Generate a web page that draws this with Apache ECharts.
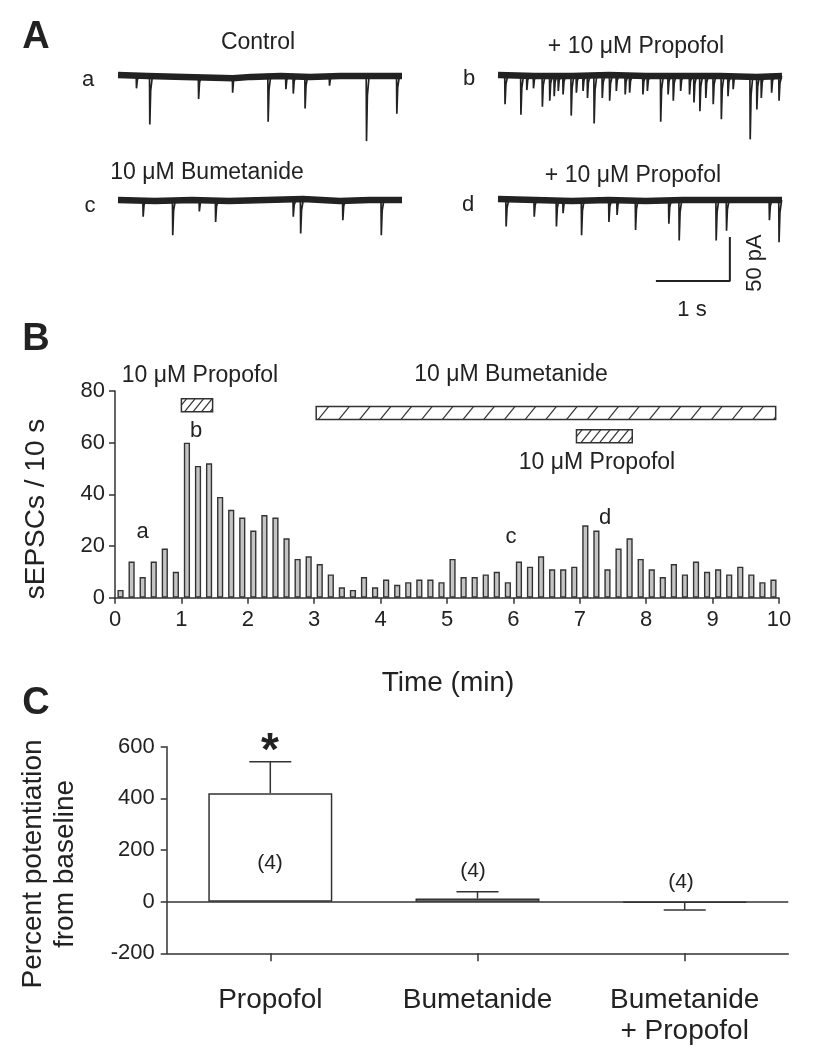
<!DOCTYPE html>
<html><head><meta charset="utf-8">
<script src="https://cdn.jsdelivr.net/npm/echarts@6/dist/echarts.min.js"></script>
<style>html,body{margin:0;padding:0;background:#fff}#c{width:821px;height:1050px}</style>
</head><body><div id="c"></div>
<script>
// ---------- DATA ----------
// Panel A: sEPSC traces, events as [time (s), amplitude (pA, inward)]
const traceEventsA = [[0.25,14],[0.43,55],[1.09,26],[1.55,19],[2.03,52],[2.27,15],[2.37,20],[2.53,37],[2.86,11],[3.36,74],[3.77,43]];
const traceEventsB = [[0.095,32],[0.31,44],[0.39,16],[0.48,14],[0.60,35],[0.70,28],[0.76,23],[0.815,17],[0.88,21],[0.99,45],[1.06,19],[1.15,17],[1.21,25],[1.30,54],[1.41,25],[1.51,28],[1.60,17],[1.72,21],[1.78,19],[1.96,21],[2.02,17],[2.20,52],[2.30,21],[2.37,28],[2.47,17],[2.59,21],[2.65,30],[2.73,40],[2.81,25],[2.91,32],[3.02,49],[3.11,23],[3.18,15],[3.41,72],[3.50,38],[3.56,25],[3.70,19],[3.80,28]];
const traceEventsC = [[0.34,19],[0.74,40],[1.10,13],[1.32,25],[2.37,19],[2.47,38],[3.04,23],[3.56,40]];
const traceEventsD = [[0.11,30],[0.49,19],[0.79,30],[0.88,15],[1.13,40],[1.50,25],[1.61,17],[1.86,34],[2.31,27],[2.45,46],[2.95,46],[3.09,35],[3.67,23],[3.80,48]];
// baseline holding current wander [time (s), pA]
const baselineA = [[0,1],[0.4,0],[0.9,-1],[1.3,-2],[1.55,-2.5],[1.8,-1],[2.2,0],[2.6,-1],[3.0,0],[3.4,0],[3.84,0]];
const baselineB = [[0,1],[0.5,0],[1.0,0],[1.5,1],[2.0,0],[2.5,0],[3.0,0],[3.5,-1],[3.84,0]];
const baselineC = [[0,0],[0.5,-1],[1.0,0],[1.5,-1],[2.0,0],[2.5,1],[3.0,-1],[3.4,0],[3.84,0]];
const baselineD = [[0,1],[0.5,0],[1.0,-1],[1.5,0],[2.0,-1],[2.5,0],[3.0,0],[3.5,0],[3.84,0]];
// scale bar: 1 s by 50 pA
const scaleBar = [[2.135,-92],[3.135,-92],[3.135,-42]];

// Panel B: sEPSCs per 10 s bin (60 bins over 10 min)
const binCounts = [3,14,8,14,19,10,60,51,52,39,34,31,26,32,31,23,15,16,13,9,4,3,8,4,7,5,6,7,7,6,
                   15,8,8,9,10,6,14,12,16,11,11,12,28,26,11,19,23,15,11,8,13,9,14,10,11,9,12,9,6,7];
const binsPerMin = 6;
// drug application bars (min) and their vertical band
const drugStart = [1.0, 3.03, 6.95];
const drugEnd = [1.47, 9.95, 7.79];
const drugLow = [72, 69, 60];
const drugHigh = [77, 74, 65];

// Panel C
const groupNames = ['Propofol','Bumetanide','Bumetanide\n+ Propofol'];
const groupMeans = [420, 12, -4];
const groupSEM = [122, 26, 28];
const groupN = [4, 4, 4];

// ---------- STYLE ----------
const FONT = '"Liberation Sans", Arial, Helvetica, sans-serif';
const INK = '#222';
const AX = '#333';
const hatchSpacing = [8.5, 20.7, 9.3];

function txt(text, x, y, size, opts) {
  opts = opts || {};
  return {
    type: 'text', x: x, y: y, rotation: opts.rot || 0, z: 100,
    style: {
      text: text, fill: INK,
      font: (opts.bold ? 'bold ' : '') + size + 'px ' + FONT,
      align: 'center', verticalAlign: 'middle',
      textAlign: 'center', textVerticalAlign: 'middle',
      lineHeight: opts.lh || undefined
    }
  };
}

function renderSpike(params, api) {
  const t = api.value(0), a = api.value(1);
  const pts = [api.coord([t - 0.004, 0]), api.coord([t, -a]), api.coord([t + 0.012, -a * 0.3]), api.coord([t + 0.035, 0])];
  return { type: 'polyline', shape: { points: pts }, style: { stroke: INK, lineWidth: 1.7, fill: null } };
}

function renderDrug(params, api) {
  const p0 = api.coord([api.value(0), api.value(3)]);
  const p1 = api.coord([api.value(1), api.value(2)]);
  const x = p0[0], y = p0[1], w = p1[0] - p0[0], h = p1[1] - p0[1];
  const sp = hatchSpacing[params.dataIndex];
  const run = h * 0.8;
  const children = [{ type: 'rect', shape: { x: x, y: y, width: w, height: h }, style: { fill: '#fff', stroke: AX, lineWidth: 1.5 } }];
  for (let a = x - run + sp * 0.6; a < x + w; a += sp) {
    let x1 = a, y1 = y + h, x2 = a + run, y2 = y;
    if (x1 < x) { y1 = y + h - (x - x1) / run * h; x1 = x; }
    if (x2 > x + w) { y2 = y + (x2 - (x + w)) / run * h; x2 = x + w; }
    if (x2 <= x1) continue;
    children.push({ type: 'line', shape: { x1: x1, y1: y1, x2: x2, y2: y2 }, style: { stroke: AX, lineWidth: 1.2 } });
  }
  return { type: 'group', children: children };
}

function renderErr(params, api) {
  const i = api.value(0), m = api.value(1), e = api.value(2);
  const sign = m >= 0 ? 1 : -1;
  const p0 = api.coord([i, m]);
  const p1 = api.coord([i, m + sign * e]);
  const cap = 21;
  return { type: 'group', children: [
    { type: 'line', shape: { x1: p0[0], y1: p0[1], x2: p1[0], y2: p1[1] }, style: { stroke: AX, lineWidth: 1.5 } },
    { type: 'line', shape: { x1: p1[0] - cap, y1: p1[1], x2: p1[0] + cap, y2: p1[1] }, style: { stroke: AX, lineWidth: 1.5 } }
  ]};
}

const traceGrids = [
  { left: 118, top: 58.4, width: 284, height: 105.6 },
  { left: 498, top: 58.4, width: 284, height: 105.6 },
  { left: 118, top: 182.4, width: 284, height: 105.6 },
  { left: 498, top: 182.4, width: 284, height: 105.6 }
];
const histGrid = { left: 115, top: 391, width: 664, height: 206.7 };
const barGrid = { left: 166.7, top: 746.7, width: 621.6, height: 206.6 };

const traceEvents = [traceEventsA, traceEventsB, traceEventsC, traceEventsD];
const baselines = [baselineA, baselineB, baselineC, baselineD];

const xAxes = [], yAxes = [], series = [];
for (let i = 0; i < 4; i++) {
  xAxes.push({ gridIndex: i, type: 'value', min: 0, max: 3.84, show: false });
  yAxes.push({ gridIndex: i, type: 'value', min: -100, max: 20, show: false });
  series.push({ type: 'line', xAxisIndex: i, yAxisIndex: i, data: baselines[i], symbol: 'none', silent: true,
    lineStyle: { color: INK, width: 6.5, join: 'round' }, z: 2 });
  series.push({ type: 'custom', xAxisIndex: i, yAxisIndex: i, data: traceEvents[i], renderItem: renderSpike,
    encode: { x: 0, y: 1 }, clip: false, z: 3 });
}
series.push({ type: 'line', xAxisIndex: 3, yAxisIndex: 3, data: scaleBar, symbol: 'none',
  lineStyle: { color: INK, width: 2 }, clip: false, z: 3 });

// Panel B axes
const axisLineStyle = { color: AX, width: 1.5 };
xAxes.push({ gridIndex: 4, type: 'value', min: 0, max: 10, interval: 1,
  axisLine: { show: true, onZero: false, lineStyle: axisLineStyle },
  axisTick: { show: true, inside: false, length: 6, lineStyle: axisLineStyle },
  axisLabel: { fontSize: 22, color: INK, fontFamily: FONT, margin: 11 },
  splitLine: { show: false } });
yAxes.push({ gridIndex: 4, type: 'value', min: 0, max: 80, interval: 20,
  axisLine: { show: true, lineStyle: axisLineStyle },
  axisTick: { show: true, inside: false, length: 6, lineStyle: axisLineStyle },
  axisLabel: { fontSize: 22, color: INK, fontFamily: FONT, margin: 10 },
  splitLine: { show: false } });
series.push({ type: 'bar', xAxisIndex: 4, yAxisIndex: 4,
  data: binCounts.map((v, i) => [(i + 0.5) / binsPerMin, v]), barWidth: 6.2,
  itemStyle: { color: '#c4c4c4', borderColor: AX, borderWidth: 1.4 }, z: 2 });
series.push({ type: 'custom', xAxisIndex: 4, yAxisIndex: 4,
  data: drugStart.map((s, i) => [s, drugEnd[i], drugLow[i], drugHigh[i]]),
  renderItem: renderDrug, encode: { x: [0, 1], y: [2, 3] }, clip: false, z: 3 });

// Panel C axes
xAxes.push({ gridIndex: 5, type: 'category', data: groupNames,
  axisLine: { show: true, onZero: false, lineStyle: axisLineStyle },
  axisTick: { show: true, inside: false, alignWithLabel: true, length: 8, lineStyle: axisLineStyle },
  axisLabel: { fontSize: 28, color: INK, fontFamily: FONT, margin: 31, lineHeight: 31 },
  splitLine: { show: false } });
yAxes.push({ gridIndex: 5, type: 'value', min: -200, max: 600, interval: 200,
  axisLine: { show: true, lineStyle: axisLineStyle },
  axisTick: { show: true, inside: false, length: 6, lineStyle: axisLineStyle },
  axisLabel: { fontSize: 22, color: INK, fontFamily: FONT, margin: 12 },
  splitLine: { show: false } });
series.push({ type: 'bar', xAxisIndex: 5, yAxisIndex: 5, data: groupMeans, barWidth: 124,
  itemStyle: { color: '#fff', borderColor: AX, borderWidth: 1.5 }, z: 2,
  markLine: { silent: true, symbol: ['none', 'none'], label: { show: false },
    lineStyle: { color: AX, width: 1.5, type: 'solid' }, data: [{ yAxis: 0 }] } });
series.push({ type: 'custom', xAxisIndex: 5, yAxisIndex: 5,
  data: groupMeans.map((m, i) => [i, m, groupSEM[i]]), renderItem: renderErr,
  encode: { x: 0, y: 1 }, clip: false, z: 4 });

const nLabelPos = [[270, 863], [473, 871], [681, 882]];
const graphics = [
  txt('A', 36, 38, 38, { bold: true }),
  txt('Control', 258, 43, 23),
  txt('+ 10 μM Propofol', 636, 47, 23),
  txt('a', 88, 80, 22),
  txt('b', 469, 79, 22),
  txt('10 μM Bumetanide', 207, 173, 23),
  txt('c', 90, 206, 22),
  txt('+ 10 μM Propofol', 633, 176, 23),
  txt('d', 468, 205, 22),
  txt('1 s', 692, 310, 22),
  txt('50 pA', 755, 263, 22, { rot: Math.PI / 2 }),
  txt('B', 36, 340, 38, { bold: true }),
  txt('10 μM Propofol', 200, 376, 23),
  txt('10 μM Bumetanide', 511, 375, 23),
  txt('10 μM Propofol', 597, 463, 23),
  txt('a', 142.5, 532, 22),
  txt('b', 196, 431, 22),
  txt('c', 511, 537, 22),
  txt('d', 605, 518, 22),
  txt('sEPSCs / 10 s', 36, 509, 28, { rot: Math.PI / 2 }),
  txt('Time (min)', 448, 683, 28),
  txt('C', 36, 704, 38, { bold: true }),
  txt('Percent potentiation\nfrom baseline', 49, 864, 28, { rot: Math.PI / 2, lh: 32 }),
  txt('*', 270, 752, 46, { bold: true })
].concat(groupN.map((n, i) => txt('(' + n + ')', nLabelPos[i][0], nLabelPos[i][1], 21)));

const chart = echarts.init(document.getElementById('c'), null, { renderer: 'canvas' });
chart.setOption({
  animation: false,
  backgroundColor: '#fff',
  textStyle: { fontFamily: FONT },
  grid: traceGrids.concat([histGrid, barGrid]).map(g => Object.assign({ containLabel: false }, g)),
  xAxis: xAxes,
  yAxis: yAxes,
  series: series,
  graphic: { elements: graphics }
});
</script>
</body></html>
